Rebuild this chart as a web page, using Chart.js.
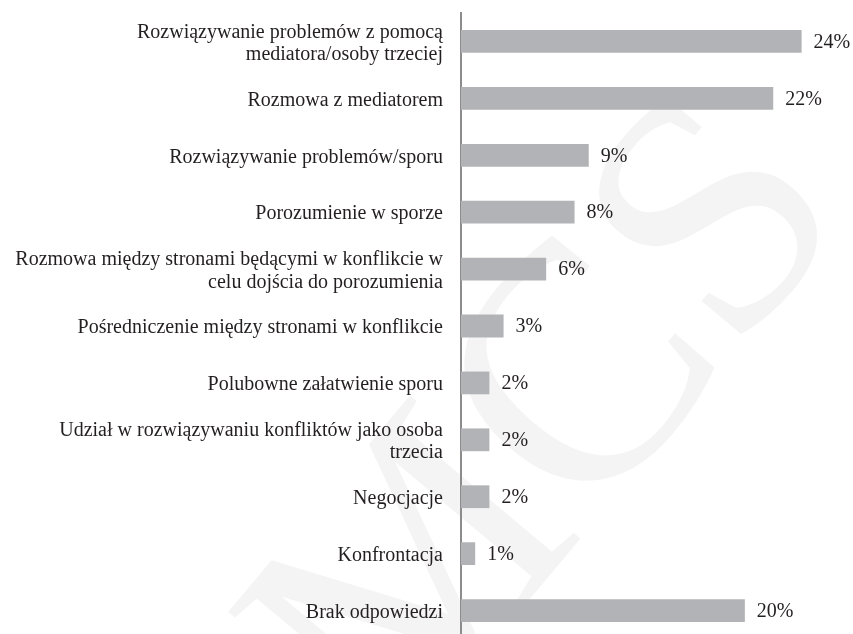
<!DOCTYPE html>
<html>
<head>
<meta charset="utf-8">
<script src="https://cdn.jsdelivr.net/npm/chart.js@4"></script>
<style>
  html, body { margin: 0; padding: 0; background: #fff; overflow: hidden; }
  canvas { display: block; }
</style>
</head>
<body>
<canvas id="chart" width="853" height="641"></canvas>
<script>
const categories = [
  ["Rozwiązywanie problemów z pomocą", "mediatora/osoby trzeciej"],
  "Rozmowa z mediatorem",
  "Rozwiązywanie problemów/sporu",
  "Porozumienie w sporze",
  ["Rozmowa między stronami będącymi w konflikcie w", "celu dojścia do porozumienia"],
  "Pośredniczenie między stronami w konflikcie",
  "Polubowne załatwienie sporu",
  ["Udział w rozwiązywaniu konfliktów jako osoba", "trzecia"],
  "Negocjacje",
  "Konfrontacja",
  "Brak odpowiedzi"
];
const values = [24, 22, 9, 8, 6, 3, 2, 2, 2, 1, 20];

const serif = "'Liberation Serif', 'Times New Roman', serif";
const textColor = "#231f20";

// faint publisher watermark behind the chart
const watermark = {
  id: "watermark",
  beforeDraw(chart) {
    const ctx = chart.ctx;
    ctx.save();
    ctx.fillStyle = "#fff";
    ctx.fillRect(0, 0, chart.width, chart.height);
    ctx.translate(555, 430);
    ctx.rotate(-50 * Math.PI / 180);
    ctx.font = "340px " + serif;
    ctx.fillStyle = "#f4f4f4";
    ctx.textAlign = "center";
    ctx.textBaseline = "middle";
    ctx.fillText("MCS", 0, 0);
    ctx.restore();
  }
};

const valueLabels = {
  id: "valueLabels",
  afterDatasetsDraw(chart) {
    const ctx = chart.ctx;
    const meta = chart.getDatasetMeta(0);
    ctx.save();
    ctx.font = "20px " + serif;
    ctx.fillStyle = textColor;
    ctx.textAlign = "left";
    ctx.textBaseline = "middle";
    meta.data.forEach((bar, i) => {
      ctx.fillText(values[i] + "%", bar.x + 12, bar.y + 1);
    });
    ctx.restore();
  }
};

new Chart(document.getElementById("chart"), {
  type: "bar",
  data: {
    labels: categories,
    datasets: [{
      data: values,
      backgroundColor: "#b2b3b6",
      borderWidth: 0,
      categoryPercentage: 1,
      barPercentage: 0.4
    }]
  },
  options: {
    indexAxis: "y",
    responsive: false,
    animation: false,
    layout: { padding: { top: 13, bottom: 2, left: 0, right: 0 } },
    plugins: {
      legend: { display: false },
      tooltip: { enabled: false }
    },
    scales: {
      x: {
        display: false,
        min: 0,
        max: 27.62
      },
      y: {
        afterFit(scale) {
          scale.width = 461;
          scale.paddingTop = 0;
          scale.paddingBottom = 0;
        },
        grid: { display: false },
        border: { display: true, color: "#8c8c8c", width: 2 },
        ticks: {
          padding: 10,
          labelOffset: 2,
          color: textColor,
          font: { family: serif, size: 20, lineHeight: 1.12 }
        }
      }
    }
  },
  plugins: [watermark, valueLabels]
});
</script>
</body>
</html>
